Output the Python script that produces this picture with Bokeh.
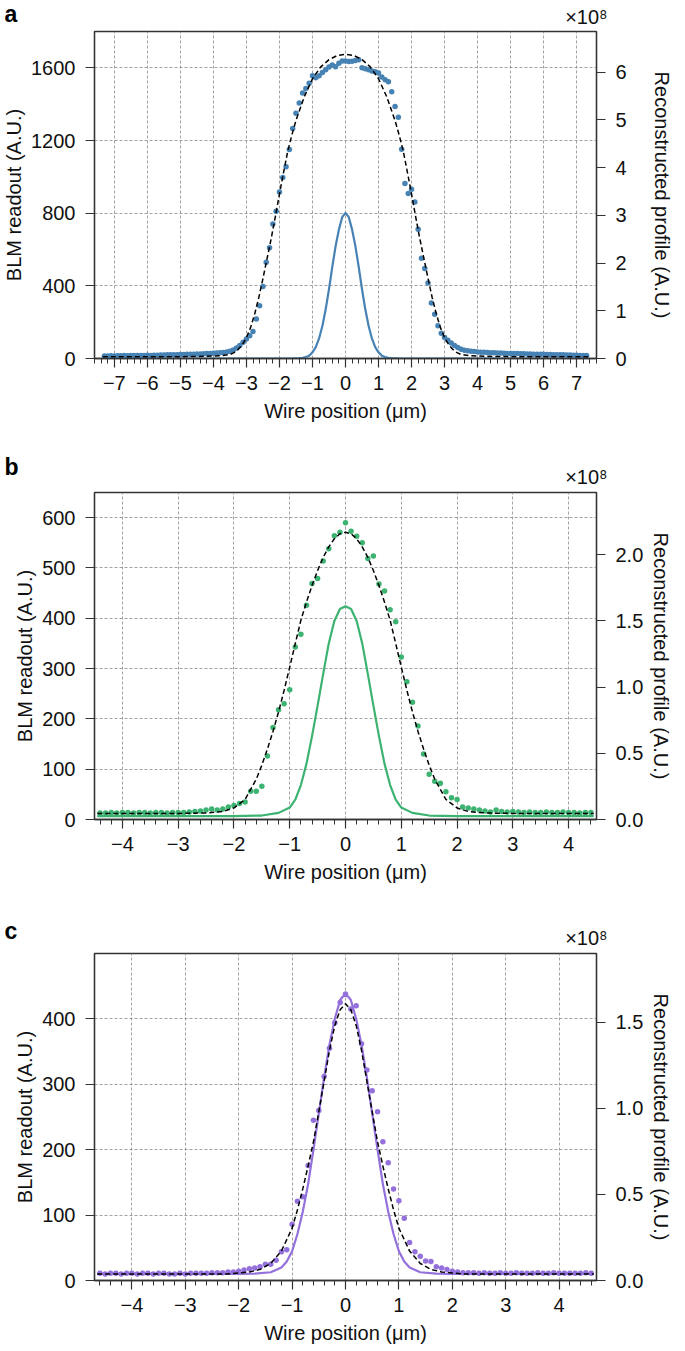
from bokeh.plotting import figure
from bokeh.models import Range1d, LinearAxis, FixedTicker, Title, NumeralTickFormatter
from bokeh.layouts import column
from bokeh.embed import file_html
from bokeh.resources import INLINE

FONT = "Liberation Sans"

# ---------------- panel a ----------------
a_dot_x = [-7.3, -7.2, -7.1, -7.0, -6.9, -6.8, -6.7, -6.6, -6.5, -6.4, -6.3, -6.2, -6.1, -6.0,
           -5.9, -5.8, -5.7, -5.6, -5.5, -5.4, -5.3, -5.2, -5.1, -5.0,
           -4.9, -4.8, -4.7, -4.6, -4.5, -4.4, -4.3, -4.2, -4.1, -4.0,
           -3.9, -3.8, -3.7, -3.6, -3.5, -3.4, -3.3, -3.2, -3.1, -3.0,
           -2.9, -2.8, -2.7, -2.6, -2.5, -2.4, -2.3, -2.2, -2.1, -2.0,
           -1.9, -1.8, -1.7, -1.6, -1.5, -1.4, -1.3, -1.2, -1.1, -1.0,
           -0.9, -0.8, -0.7, -0.6, -0.5, -0.4, -0.3, -0.2, -0.1, 0.0,
           0.1, 0.2, 0.3, 0.4, 0.5, 0.6, 0.7, 0.8, 0.9, 1.0,
           1.1, 1.2, 1.3, 1.4, 1.5, 1.6, 1.7, 1.8, 1.9, 2.0,
           2.1, 2.2, 2.3, 2.4, 2.5, 2.6, 2.7, 2.8, 2.9, 3.0,
           3.1, 3.2, 3.3, 3.4, 3.5, 3.6, 3.7, 3.8, 3.9, 4.0,
           4.1, 4.2, 4.3, 4.4, 4.5, 4.6, 4.7, 4.8, 4.9, 5.0,
           5.1, 5.2, 5.3, 5.4, 5.5, 5.6, 5.7, 5.8, 5.9, 6.0,
           6.1, 6.2, 6.3, 6.4, 6.5, 6.6, 6.7, 6.8, 6.9, 7.0, 7.1, 7.2, 7.3]
a_dot_y = [14, 14, 15, 14, 15, 15, 16, 15, 16, 16, 17, 16, 17, 18, 17, 18, 18, 19, 19, 20, 20, 21, 21, 22,
           22, 23, 23, 24, 25, 25, 26, 27, 28, 29,
           30, 31, 33, 36, 40, 47, 58, 72, 90, 108,
           125, 149, 217, 290, 396, 530, 610, 740, 810, 917,
           996, 1055, 1150, 1266, 1350, 1407, 1462, 1486, 1515, 1556,
           1545, 1556, 1575, 1590, 1605, 1615, 1606, 1625, 1637, 1638,
           1635, 1636, 1640, 1644, 1600, 1595, 1590, 1583, 1578, 1572,
           1550, 1535, 1523, 1468, 1387, 1328, 1152, 963, 908, 932,
           861, 712, 552, 495, 416, 306, 244, 180, 139, 116,
           100, 85, 72, 60, 51, 46, 42, 40, 38, 36,
           35, 34, 33, 32, 31, 30, 30, 29, 28, 28,
           27, 27, 26, 26, 25, 25, 24, 24, 23, 23,
           22, 22, 21, 21, 20, 20, 19, 19, 18, 18, 17, 17, 16]
a_fit_x = [-7.35, -6.0, -5.0, -4.25, -3.75, -3.5, -3.375, -3.25, -3.125, -3.0, -2.875, -2.75, -2.625,
           -2.5, -2.375, -2.25, -2.125, -2.0, -1.875, -1.75, -1.625, -1.5, -1.25, -1.0, -0.75, -0.5,
           -0.25, 0.0, 0.25, 0.5, 0.75, 1.0, 1.25, 1.5, 1.625, 1.75, 1.875, 2.0, 2.125, 2.25, 2.375,
           2.5, 2.625, 2.75, 2.875, 3.0, 3.125, 3.25, 3.375, 3.5, 3.75, 4.25, 5.0, 6.0, 7.35]
a_fit_y = [9, 9, 10, 12, 16, 22, 32, 50, 76, 115, 170, 245, 335,
           440, 550, 660, 780, 905, 1025, 1140, 1230, 1310, 1440, 1540, 1605, 1645,
           1668, 1675, 1668, 1645, 1605, 1540, 1440, 1310, 1230, 1140, 1025, 905, 780, 660, 550,
           440, 335, 245, 170, 115, 76, 50, 32, 22, 16, 12, 10, 9, 9]
# reconstructed profile, in units of 1e8
a_prof_x = [-7.35, -2.0, -1.6, -1.4, -1.3, -1.2, -1.1, -1.0, -0.9, -0.8, -0.7, -0.6, -0.5, -0.4,
            -0.3, -0.2, -0.1, 0.0, 0.1, 0.2, 0.3, 0.4, 0.5, 0.6, 0.7, 0.8, 0.9, 1.0, 1.1, 1.2,
            1.3, 1.4, 1.6, 2.0, 7.35]
a_prof_y = [0.0, 0.0, 0.002, 0.008, 0.015, 0.03, 0.06, 0.13, 0.24, 0.42, 0.68, 1.03, 1.45, 1.92,
            2.35, 2.70, 2.96, 3.05, 2.96, 2.70, 2.35, 1.92, 1.45, 1.03, 0.68, 0.42, 0.24, 0.13, 0.06, 0.03,
            0.015, 0.008, 0.002, 0.0, 0.0]

# ---------------- panel b ----------------
b_dot_x = [-4.4, -4.3, -4.2, -4.1, -4.0, -3.9, -3.8, -3.7, -3.6, -3.5,
           -3.4, -3.3, -3.2, -3.1, -3.0, -2.9, -2.8, -2.7, -2.6, -2.5,
           -2.4, -2.3, -2.2, -2.1, -2.0, -1.9, -1.8, -1.7, -1.6, -1.5,
           -1.4, -1.3, -1.2, -1.1, -1.0, -0.9, -0.8, -0.7, -0.6, -0.5,
           -0.4, -0.3, -0.2, -0.1, 0.0, 0.1, 0.2, 0.3, 0.4, 0.5,
           0.6, 0.7, 0.8, 0.9, 1.0, 1.1, 1.2, 1.3, 1.4, 1.5,
           1.6, 1.7, 1.8, 1.9, 2.0, 2.1, 2.2, 2.3, 2.4, 2.5,
           2.6, 2.7, 2.8, 2.9, 3.0, 3.1, 3.2, 3.3, 3.4, 3.5,
           3.6, 3.7, 3.8, 3.9, 4.0, 4.1, 4.2, 4.3, 4.4]
b_dot_y = [13, 13, 14, 13, 14, 14, 13, 14, 14, 13,
           14, 14, 13, 14, 14, 14, 15, 16, 17, 19,
           21, 19, 21, 25, 28, 32, 35, 56, 56, 66,
           126, 183, 218, 230, 258, 343, 368, 426, 469, 479,
           514, 538, 564, 571, 590, 573, 563, 550, 519, 524,
           468, 454, 417, 393, 323, 274, 233, 186, 130, 90,
           76, 72, 55, 43, 40, 25, 23, 21, 19, 17,
           15, 19, 16, 15, 16, 15, 14, 15, 14, 14,
           15, 14, 14, 15, 14, 14, 13, 14, 14]
b_fit_x = [-4.45, -3.0, -2.5, -2.2, -2.0, -1.8, -1.6, -1.5, -1.4, -1.3, -1.2, -1.1, -1.0, -0.9,
           -0.8, -0.7, -0.6, -0.5, -0.4, -0.3, -0.2, -0.1, 0.0, 0.1, 0.2, 0.3, 0.4, 0.5, 0.6, 0.7,
           0.8, 0.9, 1.0, 1.1, 1.2, 1.3, 1.4, 1.5, 1.6, 1.8, 2.0, 2.2, 2.5, 3.0, 4.45]
b_fit_y = [12, 12, 13, 16, 23, 40, 80, 108, 140, 175, 214, 257, 303, 350,
           396, 432, 465, 495, 521, 542, 558, 568, 571, 568, 558, 542, 521, 495, 465, 432,
           396, 350, 303, 257, 214, 175, 140, 108, 80, 40, 23, 16, 13, 12, 12]
b_prof_x = [-4.45, -2.0, -1.5, -1.2, -1.0, -0.9, -0.8, -0.7, -0.6, -0.5, -0.4, -0.3, -0.2, -0.1,
            0.0, 0.1, 0.2, 0.3, 0.4, 0.5, 0.6, 0.7, 0.8, 0.9, 1.0, 1.2, 1.5, 2.0, 4.45]
b_prof_y = [0.025, 0.025, 0.03, 0.05, 0.09, 0.15, 0.26, 0.42, 0.63, 0.86, 1.10, 1.33, 1.50, 1.59,
            1.61, 1.59, 1.50, 1.33, 1.10, 0.86, 0.63, 0.42, 0.26, 0.15, 0.09, 0.05, 0.03, 0.025, 0.025]

# ---------------- panel c ----------------
c_dot_x = [-4.6, -4.5, -4.4, -4.3, -4.2, -4.1, -4.0, -3.9, -3.8, -3.7,
           -3.6, -3.5, -3.4, -3.3, -3.2, -3.1, -3.0, -2.9, -2.8, -2.7,
           -2.6, -2.5, -2.4, -2.3, -2.2, -2.1, -2.0, -1.9, -1.8, -1.7,
           -1.6, -1.5, -1.4, -1.3, -1.2, -1.1, -1.0, -0.9, -0.8, -0.7,
           -0.6, -0.5, -0.4, -0.3, -0.2, -0.1, 0.0, 0.1, 0.2, 0.3,
           0.4, 0.5, 0.6, 0.7, 0.8, 0.9, 1.0, 1.1, 1.2, 1.3,
           1.4, 1.5, 1.6, 1.7, 1.8, 1.9, 2.0, 2.1, 2.2, 2.3,
           2.4, 2.5, 2.6, 2.7, 2.8, 2.9, 3.0, 3.1, 3.2, 3.3,
           3.4, 3.5, 3.6, 3.7, 3.8, 3.9, 4.0, 4.1, 4.2, 4.3,
           4.4, 4.5, 4.6]
c_dot_y = [11, 10, 11, 11, 10, 11, 11, 10, 11, 11,
           10, 11, 11, 10, 10, 11, 10, 11, 11, 11,
           11, 12, 12, 12, 13, 13, 14, 16, 18, 19,
           21, 25, 25, 31, 44, 47, 86, 121, 128, 176,
           245, 260, 312, 355, 394, 425, 438, 415, 420, 362,
           322, 290, 258, 212, 180, 140, 122, 95, 58, 44,
           37, 30, 29, 21, 19, 17, 14, 13, 12, 12,
           12, 11, 12, 11, 11, 12, 11, 11, 12, 11,
           11, 11, 12, 11, 11, 12, 11, 11, 11, 11,
           11, 12, 11]
c_fit_x = [-4.65, -2.2, -1.8, -1.6, -1.4, -1.2, -1.0, -0.9, -0.8, -0.7, -0.6, -0.5, -0.4, -0.3,
           -0.2, -0.1, 0.0, 0.1, 0.2, 0.3, 0.4, 0.5, 0.6, 0.7, 0.8, 0.9, 1.0, 1.2, 1.4, 1.6, 1.8,
           2.2, 4.65]
c_fit_y = [10, 10, 13, 17, 26, 45, 80, 108, 140, 175, 212, 258, 305, 352,
           390, 414, 423, 414, 390, 352, 305, 258, 212, 175, 140, 108, 80, 45, 26, 17, 13,
           10, 10]
c_prof_x = [-4.65, -2.0, -1.7, -1.4, -1.2, -1.1, -1.0, -0.9, -0.8, -0.7, -0.6, -0.5, -0.4, -0.3,
            -0.2, -0.1, -0.05, 0.0, 0.05, 0.1, 0.2, 0.3, 0.4, 0.5, 0.6, 0.7, 0.8, 0.9, 1.0, 1.1,
            1.2, 1.4, 1.7, 2.0, 4.65]
c_prof_y = [0.038, 0.038, 0.04, 0.048, 0.075, 0.11, 0.17, 0.27, 0.40, 0.56, 0.76, 0.97, 1.18, 1.37,
            1.52, 1.63, 1.65, 1.655, 1.65, 1.63, 1.52, 1.37, 1.18, 0.97, 0.76, 0.56, 0.40, 0.27, 0.17, 0.11,
            0.075, 0.048, 0.04, 0.038, 0.038]

# tick definitions
a_xticks = [-7, -6, -5, -4, -3, -2, -1, 0, 1, 2, 3, 4, 5, 6, 7]
bc_xticks = [-4, -3, -2, -1, 0, 1, 2, 3, 4]
a_lticks = [0, 400, 800, 1200, 1600]
b_lticks = [0, 100, 200, 300, 400, 500, 600]
c_lticks = [0, 100, 200, 300, 400]
a_rticks = [0, 1, 2, 3, 4, 5, 6]
b_rticks = [0.0, 0.5, 1.0, 1.5, 2.0]
c_rticks = [0.0, 0.5, 1.0, 1.5]

FRAME_W = 502
FRAME_H = 327
AX = "#333333"


def style_axis(ax, label_standoff, title_standoff):
    ax.major_tick_out = 9
    ax.major_tick_in = 0
    ax.minor_tick_out = 5
    ax.minor_tick_in = 0
    ax.axis_line_color = AX
    ax.axis_line_width = 1.3
    ax.major_tick_line_color = AX
    ax.major_tick_line_width = 1.2
    ax.minor_tick_line_color = AX
    ax.minor_tick_line_width = 1.0
    ax.major_label_text_font = FONT
    ax.major_label_text_font_size = "20px"
    ax.major_label_text_color = "#111111"
    ax.axis_label_text_font = FONT
    ax.axis_label_text_font_size = "20px"
    ax.axis_label_text_font_style = "normal"
    ax.axis_label_text_color = "#111111"
    ax.major_label_standoff = label_standoff
    ax.axis_label_standoff = title_standoff


def minus(v):
    return ("\u2212" + str(abs(v))) if v < 0 else str(v)


def panel(letter, xr, ytop, rtop, xticks, lticks, rticks, rfmt, rstand,
          dx, dy, fx, fy, px, py, color, top, bottom, mult_standoff, letter_standoff):
    p = figure(frame_width=FRAME_W, frame_height=FRAME_H,
               x_range=Range1d(-xr, xr), y_range=Range1d(0, ytop),
               output_backend="svg", toolbar_location=None,
               min_border_left=90, min_border_right=77,
               min_border_top=top, min_border_bottom=bottom)
    p.extra_y_ranges = {"r": Range1d(0, rtop)}
    p.background_fill_color = "white"
    p.border_fill_color = "white"
    p.outline_line_color = AX
    p.outline_line_width = 1.3

    minors = [round(k * 0.2, 1) for k in range(int(-xr * 5) - 1, int(xr * 5) + 2)]
    xa = p.xaxis[0]
    xa.ticker = FixedTicker(ticks=xticks, minor_ticks=minors)
    xa.major_label_overrides = {t: minus(t) for t in xticks}
    xa.axis_label = "Wire position (\u03bcm)"
    style_axis(xa, 8, 7)

    ya = p.yaxis[0]
    ya.ticker = FixedTicker(ticks=lticks)
    ya.axis_label = "BLM readout (A.U.)"
    style_axis(ya, 10, 3)
    ya.minor_tick_line_color = None

    ra = LinearAxis(y_range_name="r", ticker=FixedTicker(ticks=rticks),
                    axis_label="Reconstructed profile (A.U.)")
    if rfmt:
        ra.formatter = NumeralTickFormatter(format=rfmt)
    style_axis(ra, 10, rstand)
    ra.minor_tick_line_color = None
    p.add_layout(ra, "right")

    for g in (p.xgrid[0], p.ygrid[0]):
        g.grid_line_color = "#8a8a8a"
        g.grid_line_dash = "3 2"
        g.grid_line_width = 0.8

    p.line(px, py, y_range_name="r", line_color=color, line_width=2.2)
    p.scatter(dx, dy, size=5.5, fill_color=color, line_color=None)
    p.line(fx, fy, line_color="black", line_width=1.5, line_dash="5 3")

    # multiplier (closest to the frame) and panel letter (overlapping row above)
    p.add_layout(Title(text="\u00d710\u2078", align="right", offset=-11, standoff=mult_standoff,
                       text_font=FONT, text_font_size="20px", text_font_style="normal",
                       text_color="#111111"), "above")
    p.add_layout(Title(text=letter, align="left", offset=-90, standoff=letter_standoff,
                       text_font=FONT, text_font_size="23px", text_font_style="bold",
                       text_color="black"), "above")
    return p


pa = panel("a", 7.6, 1800, 6.85, a_xticks, a_lticks, a_rticks, None, 21,
           a_dot_x, a_dot_y, a_fit_x, a_fit_y, a_prof_x, a_prof_y, "#4682B4", 31, 96, 7, -52)
pb = panel("b", 4.5, 650, 2.47, bc_xticks, b_lticks, b_rticks, "0.0", 4,
           b_dot_x, b_dot_y, b_fit_x, b_fit_y, b_prof_x, b_prof_y, "#3CB371", 38, 96, 9, -41)
pc = panel("c", 4.7, 500, 1.9, bc_xticks, c_lticks, c_rticks, "0.0", 4,
           c_dot_x, c_dot_y, c_fit_x, c_fit_y, c_prof_x, c_prof_y, "#9370DB", 38, 69, 9, -46)

layout = column(pa, pb, pc, spacing=0)
open("out.html", "w").write(file_html(layout, INLINE))
